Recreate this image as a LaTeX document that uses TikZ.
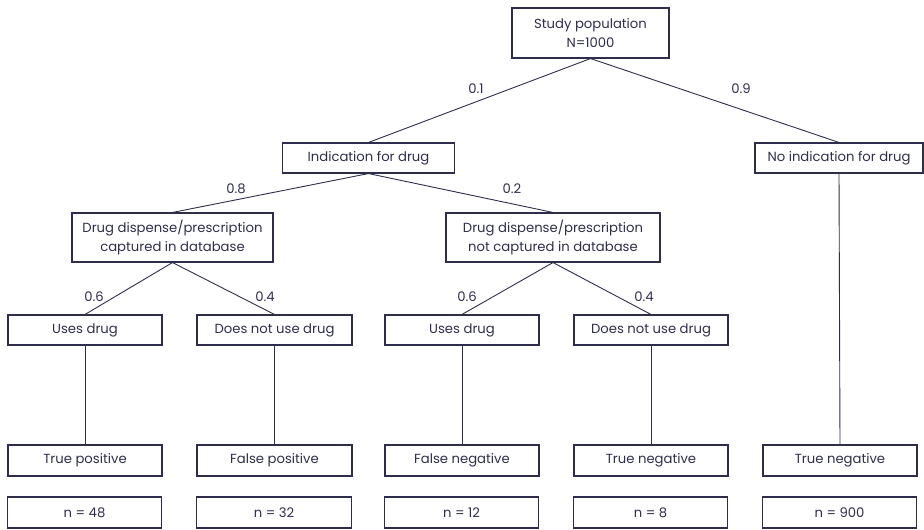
\documentclass[tikz,border=0pt]{standalone}
\usepackage{fontspec}
\setmainfont{Poppins}
\definecolor{ink}{HTML}{2E2E4C}
\begin{document}
\begin{tikzpicture}[x=1pt,y=-1pt,
  every node/.style={text=ink, font=\fontsize{13.2}{19}\selectfont},
  box/.style={draw=ink, line width=1.1pt, inner sep=0pt, align=center, minimum height=30pt},
  link/.style={draw=ink, line width=0.9pt},
  prob/.style={inner sep=1pt}]
\useasboundingbox (0,0) rectangle (924,530);

% tree levels
\node[box, minimum width=157pt, minimum height=50pt] (pop) at (590.5,33) {Study population\\N=1000};
\node[box, minimum width=172pt] (ind) at (368.5,158) {Indication for drug};
\node[box, minimum width=168pt] (noind) at (839,158) {No indication for drug};
\node[box, minimum width=201pt, minimum height=49pt] (capt) at (172.5,237.5) {Drug dispense/prescription\\captured in database};
\node[box, minimum width=214pt, minimum height=49pt] (ncapt) at (553,237.5) {Drug dispense/prescription\\not captured in database};

\node[box, minimum width=154pt] (use1) at (85,330) {Uses drug};
\node[box, minimum width=155pt] (nuse1) at (274.5,330) {Does not use drug};
\node[box, minimum width=154pt] (use2) at (462,330) {Uses drug};
\node[box, minimum width=154pt] (nuse2) at (651,330) {Does not use drug};

% outcomes
\node[box, minimum width=154pt, minimum height=31pt] (tp) at (85,460.5) {True positive};
\node[box, minimum width=155pt, minimum height=31pt] (fp) at (274.5,460.5) {False positive};
\node[box, minimum width=154pt, minimum height=31pt] (fn) at (462,460.5) {False negative};
\node[box, minimum width=154pt, minimum height=31pt] (tn) at (651,460.5) {True negative};
\node[box, minimum width=154pt, minimum height=31pt] (tn2) at (840,460.5) {True negative};

% counts
\node[box, minimum width=154pt, minimum height=31pt] (n1) at (84.5,512.5) {n = 48};
\node[box, minimum width=155pt, minimum height=31pt] (n2) at (274,512.5) {n = 32};
\node[box, minimum width=154pt, minimum height=31pt] (n3) at (461.5,512.5) {n = 12};
\node[box, minimum width=154pt, minimum height=31pt] (n4) at (650.5,512.5) {n = 8};
\node[box, minimum width=154pt, minimum height=31pt] (n5) at (839.5,512.5) {n = 900};

% branches
\draw[link] (pop.south) -- (ind.north);
\draw[link] (pop.south) -- (noind.north);
\draw[link] (ind.south) -- (capt.north);
\draw[link] (ind.south) -- (ncapt.north);
\draw[link] (capt.south) -- (use1.north);
\draw[link] (capt.south) -- (nuse1.north);
\draw[link] (ncapt.south) -- (use2.north);
\draw[link] (ncapt.south) -- (nuse2.north);
\draw[link] (use1.south) -- (tp.north);
\draw[link] (nuse1.south) -- (fp.north);
\draw[link] (use2.south) -- (fn.north);
\draw[link] (nuse2.south) -- (tn.north);
\draw[link] (noind.south) -- (tn2.north);

% branch probabilities
\node[prob] (p1) at (476,89) {0.1};
\node[prob] (p2) at (741,89) {0.9};
\node[prob] (p3) at (236,189) {0.8};
\node[prob] (p4) at (512,189) {0.2};
\node[prob] (p5) at (94,297) {0.6};
\node[prob] (p6) at (265,297) {0.4};
\node[prob] (p7) at (467,297) {0.6};
\node[prob] (p8) at (644,297) {0.4};
\end{tikzpicture}
\end{document}
